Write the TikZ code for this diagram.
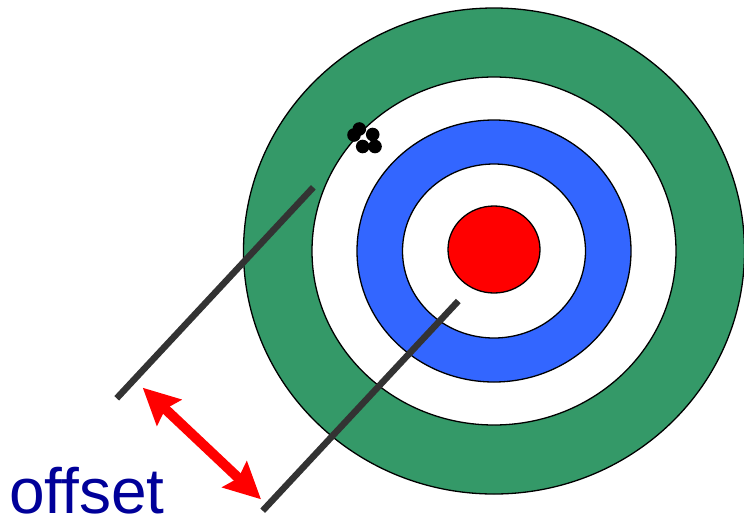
\documentclass[tikz,border=0pt]{standalone}
\usepackage{fontspec}
\setmainfont{Liberation Sans}
\usetikzlibrary{arrows.meta}
\definecolor{ringgreen}{RGB}{52,153,104}
\definecolor{ringblue}{RGB}{51,102,255}
\definecolor{ringred}{RGB}{255,0,0}
\definecolor{navytext}{RGB}{0,0,153}
\definecolor{bargray}{RGB}{51,51,51}
\tikzset{
  ring/.style={draw=black, line width=1.3pt},
  shot/.style={fill=black},
  bar/.style={draw=bargray, line width=6.5pt},
  offhead/.tip={Stealth[length=36pt,width=35pt,inset=5pt]},
  offarrow/.style={draw=ringred, line width=10pt, offhead-offhead},
  label/.style={text=navytext, font=\fontsize{64}{66}\selectfont, inner sep=0pt, anchor=base west}
}
\begin{document}
\begin{tikzpicture}[x=1pt,y=-1pt]
\useasboundingbox (0,0) rectangle (744,517);
\coordinate (c) at (494,251);
\fill[ringgreen, ring] (c) ellipse [x radius=250.5, y radius=243];
\fill[white, ring] (c) ellipse [x radius=182, y radius=174];
\fill[ringblue, ring] (c) ellipse [x radius=137, y radius=131];
\fill[white, ring] (c) ellipse [x radius=91.5, y radius=87];
\fill[ringred, ring] (494,249.5) ellipse [x radius=46, y radius=43.5];
% shot group
\fill[shot] (359.3,129) circle (6.8);
\fill[shot] (354,135) circle (6.8);
\fill[shot] (372.7,134.5) circle (6.8);
\fill[shot] (362.7,146.5) circle (6.8);
\fill[shot] (375,146.5) circle (6.8);
% offset bars
\coordinate (a1) at (116.7,398.3);
\coordinate (a2) at (313.3,187.3);
\coordinate (b1) at (262.7,510.7);
\coordinate (b2) at (458.3,301);
\draw[bar] (a1) -- (a2);
\draw[bar] (b1) -- (b2);
% offset arrow
\coordinate (p1) at (142.7,387.7);
\coordinate (p2) at (261,499.3);
\draw[offarrow] (p1) -- (p2);
\node[label] (t) at (9,513) {offset};
\end{tikzpicture}
\end{document}
